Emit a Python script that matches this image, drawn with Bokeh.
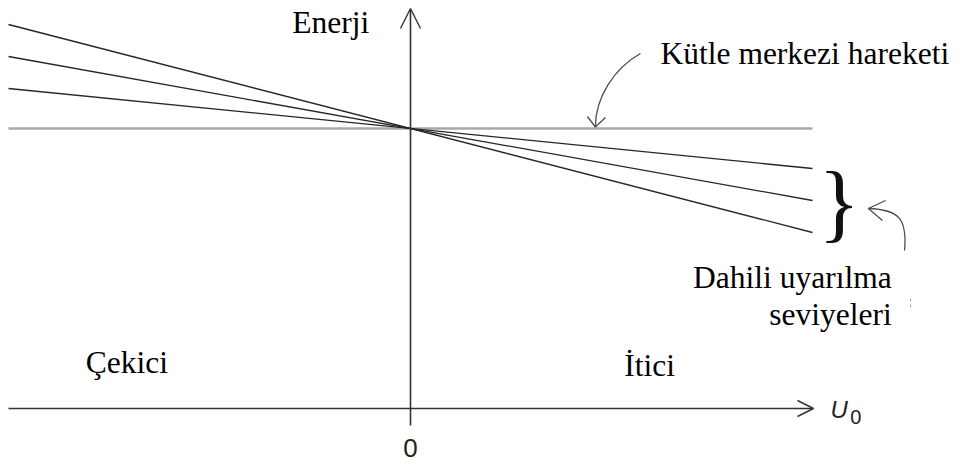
from bokeh.plotting import figure
from bokeh.models import Range1d, Arrow, OpenHead
from bokeh.core.properties import value
from bokeh.embed import file_html
from bokeh.resources import INLINE

# U0 axis ends (repulsive side positive) and energies of each state
u0_ends = [-1.0, 1.0]
e_center_of_mass = [2.8, 2.8]
# internal excitation levels: energy at the left and right ends of the U0 range
level_left = [3.84, 3.52, 3.20]
level_right = [1.76, 2.08, 2.40]

# axis extents
u0_axis = [-1.0, 1.0025]
energy_axis = [-0.17, 4.0]

SERIF = value("Liberation Serif")
SANS = value("Liberation Sans")

p = figure(width=960, height=466, output_backend="svg", toolbar_location=None,
           x_range=Range1d(-1.0199, 1.3682), y_range=Range1d(-0.58, 4.08),
           x_axis_type=None, y_axis_type=None, min_border=0)
p.grid.visible = False
p.outline_line_color = None
p.background_fill_color = "white"
p.border_fill_color = "white"

# axes with open arrowheads
p.add_layout(Arrow(x_start=u0_axis[0], y_start=0, x_end=u0_axis[1], y_end=0,
                   line_color="#333333", line_width=1.6,
                   end=OpenHead(size=16, line_color="#333333", line_width=1.4)))
p.add_layout(Arrow(x_start=0, y_start=energy_axis[0], x_end=0, y_end=energy_axis[1],
                   line_color="#333333", line_width=1.6,
                   end=OpenHead(size=20, line_color="#333333", line_width=1.4)))

# centre-of-mass motion (flat) and internal excitation levels
p.line(u0_ends, e_center_of_mass, line_color="#a8a8a8", line_width=2.6)
for left, right in zip(level_left, level_right):
    p.line(u0_ends, [left, right], line_color="#262626", line_width=1.3)

# curved pointer to the centre-of-mass line
p.bezier(x0=[0.572], y0=[3.55], x1=[0.460], y1=[2.82],
         cx0=[0.505], cy0=[3.40], cx1=[0.460], cy1=[3.10],
         line_color="#4d4d4d", line_width=1.3)
p.multi_line(xs=[[0.440, 0.460, 0.485]], ys=[[2.92, 2.815, 2.91]],
             line_color="#4d4d4d", line_width=1.3)

# brace grouping the excitation levels
p.text(x=[1.066], y=[2.07], text=["}"], text_font=SERIF, text_font_size="86px",
       text_align="center", text_baseline="middle", text_color="#111111")

# curved pointer to the brace
p.bezier(x0=[1.139], y0=[2.00], x1=[1.229], y1=[1.58],
         cx0=[1.215], cy0=[1.99], cx1=[1.236], cy1=[1.90],
         line_color="#4d4d4d", line_width=1.3)
p.multi_line(xs=[[1.182, 1.139, 1.174]], ys=[[2.08, 2.00, 1.88]],
             line_color="#4d4d4d", line_width=1.3)
p.line([1.244, 1.244], [1.10, 0.98], line_color="#9a9a9a", line_width=1.0,
       line_dash="3 3")

# labels
p.text(x=[-0.294], y=[3.86], text=["Enerji"], text_font=SERIF,
       text_font_size="31.5px", text_baseline="alphabetic", text_color="black")
p.text(x=[0.622], y=[3.55], text=["Kütle merkezi hareketi"], text_font=SERIF,
       text_font_size="31.5px", text_baseline="alphabetic", text_color="black")
p.text(x=[1.197, 1.197], y=[1.31, 0.94], text=["Dahili uyarılma", "seviyeleri"],
       text_font=SERIF, text_font_size="31.5px", text_align="right",
       text_baseline="alphabetic", text_color="black")
p.text(x=[-0.808], y=[0.46], text=["Çekici"], text_font=SERIF,
       text_font_size="31.5px", text_baseline="alphabetic", text_color="black")
p.text(x=[0.532], y=[0.43], text=["İtici"], text_font=SERIF,
       text_font_size="31.5px", text_baseline="alphabetic", text_color="black")

# tick label and axis name
p.text(x=[0.0], y=[-0.39], text=["0"], text_font=SANS, text_font_size="26px",
       text_align="center", text_baseline="alphabetic", text_color="#222222")
p.text(x=[1.045], y=[-0.01], text=["U"], text_font=SANS, text_font_size="24px",
       text_font_style="italic", text_baseline="alphabetic", text_color="#222222")
p.text(x=[1.094], y=[-0.08], text=["0"], text_font=SANS, text_font_size="20px",
       text_baseline="alphabetic", text_color="#222222")

open("out.html", "w").write(file_html(p, INLINE))
